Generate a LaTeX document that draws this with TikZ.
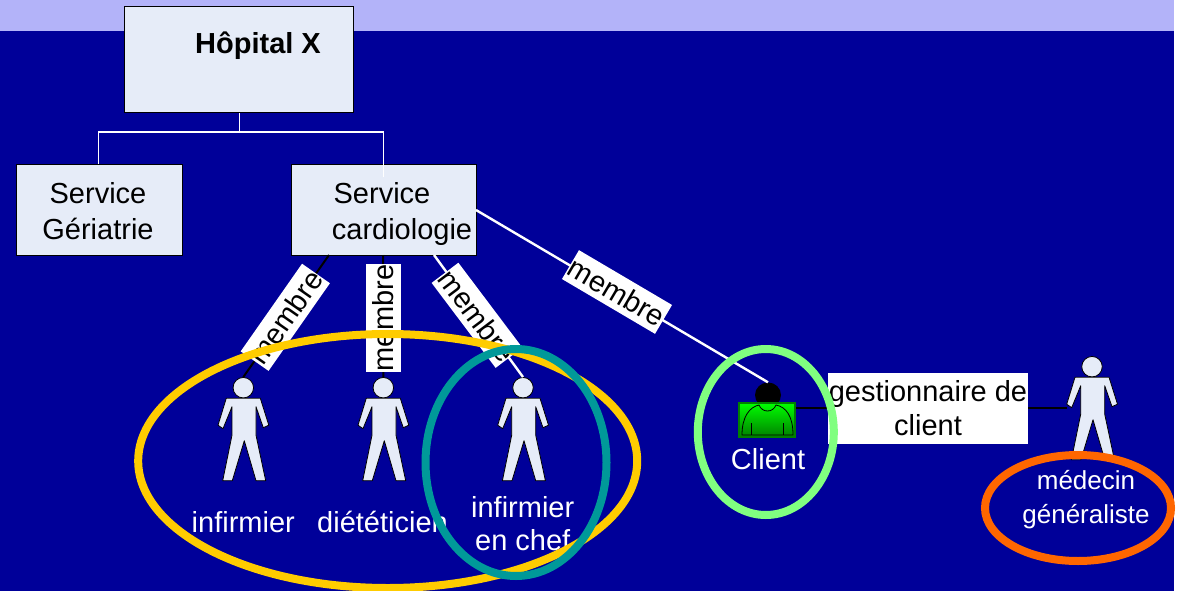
\documentclass[tikz,border=0pt]{standalone}
\usepackage{fontspec}
\usetikzlibrary{shapes.geometric}
\setmainfont{Liberation Sans}
\definecolor{navy}{HTML}{000099}
\definecolor{band}{HTML}{B3B3F9}
\definecolor{pale}{HTML}{E6ECF8}
\definecolor{yell}{HTML}{FFCC00}
\definecolor{teal2}{HTML}{009999}
\definecolor{lgreen}{HTML}{80FF80}
\definecolor{orng}{HTML}{FF6600}
\definecolor{dgreen}{HTML}{008000}
\tikzset{
  x=1pt,y=-1pt,
  boxn/.style={draw=black,line width=0.8pt,fill=pale,inner sep=0pt,anchor=north west},
  boxt/.style={text=black,inner sep=0pt,align=center,anchor=center,font=\fontsize{29}{35.5}\selectfont},
  lab/.style={fill=white,text=black,inner sep=0pt,font=\fontsize{29}{34}\selectfont,align=center},
  captext/.style={text=white,align=center,anchor=center,font=\fontsize{29}{33}\selectfont,inner sep=0pt},
  captextb/.style={text=white,align=center,anchor=center,font=\fontsize{26}{34.3}\selectfont,inner sep=0pt},
  org/.style={draw=white,line width=1pt},
  linkb/.style={draw=black,line width=2pt},
  linkw/.style={draw=white,line width=2.4pt},
  ring/.style={line width=8pt,draw=#1},
  headn/.style={circle,draw=black,line width=0.8pt,fill=pale,minimum size=20.5pt,inner sep=0pt},
  personbody/.pic={
    \draw[black,line width=0.8pt,fill=pale,line join=round]
      (-17,10.5) -- (17,10.5) -- (25.5,37.5) -- (20,40) -- (12.7,19) -- (12.7,47.5)
      -- (22.4,93) -- (12.7,93) -- (1,53) -- (-11,93) -- (-20.6,93) -- (-11.3,47.5)
      -- (-11.3,19) -- (-20.3,41) -- (-25.3,37.5) -- cycle;
  }
}
\begin{document}
\begin{tikzpicture}
\useasboundingbox (0,0) rectangle (1177,591);
\fill[white] (0,0) rectangle (1177,591);
\fill[navy] (0,0) rectangle (1174,591);
\fill[band] (0,0) rectangle (1174,31);
% boxes
\node[boxn,minimum width=228.5pt,minimum height=106.5pt] (hop) at (124,6) {};
\node[boxt,font=\fontsize{29}{35}\selectfont\bfseries] (hopt) at (258,46) {Hôpital X};
\node[boxn,minimum width=165.5pt,minimum height=90.5pt] (ger) at (16,164) {};
\node[boxt] (gert) at (98,211) {Service\\Gériatrie};
\node[boxn,minimum width=184.5pt,minimum height=90.5pt] (car) at (291,164) {};
\coordinate (j) at (239,132);
\coordinate (gtop) at (98,164);
\coordinate (ctop) at (383,177);
\draw[org] (hop.south -| j) -- (j) -- (j -| gtop) -- (gtop);
\draw[org] (j) -- (j -| ctop) -- (ctop);
\node[boxt] (cart) at (402,214) {Service\hspace*{40pt}\\cardiologie};
% persons
\node[headn] (p1) at (243.3,387.7) {};
\node[headn] (p2) at (383.3,387.7) {};
\node[headn] (p3) at (523,387.7) {};
\node[headn] (p4) at (1092,366.7) {};
\node[fill=black,ellipse,minimum width=26pt,minimum height=25pt,inner sep=0pt] (cl) at (768,395) {};
% connectors
\coordinate (c1) at (329,255);
\coordinate (c2) at (383,255);
\coordinate (c3) at (434,255);
\coordinate (c4) at (476,210);
\coordinate (hand) at (1067,408);
\draw[linkb] (c1) -- (p1.north);
\draw[linkb] (c2) -- (p2.north);
\draw[linkw] (c3) -- (p3.north);
\draw[linkw] (c4) -- (cl.north);
\pic at (243.3,387.7) {personbody};
\pic at (383.3,387.7) {personbody};
\pic at (523,387.7) {personbody};
\pic at (1092,366.7) {personbody};
% client icon
\node[draw=dgreen,line width=2pt,top color=green,bottom color=green!50!black,minimum width=56pt,minimum height=34pt,inner sep=0pt] (icon) at (767,420) {};
\draw[black,line width=0.8pt] (742,435) .. controls (742,416) and (750,407) .. (759,405)
  .. controls (762,413) and (773,413) .. (776,405) .. controls (786,407) and (793,416) .. (793,435) -- cycle;
\draw[black,line width=0.8pt] (751,423) -- (751,435) (783,423) -- (783,435);
\draw[linkb] (icon.east |- hand) -- (hand);
% labels
\node[lab,minimum width=107pt,minimum height=34pt,rotate=55] (m1) at (285.3,317.3) {membre};
\node[lab,minimum width=107.5pt,minimum height=34.5pt,rotate=90] (m2) at (383.3,318) {membre};
\node[lab,minimum width=106pt,minimum height=33.5pt,rotate=-53] (m3) at (477,315.3) {membre};
\node[lab,minimum width=108pt,minimum height=33.5pt,rotate=-30.5] (m4) at (617,292) {membre};
\node[lab,minimum width=200pt,minimum height=71pt] (gest) at (928,408.5) {gestionnaire de\\client};
% captions
\node[captext] (t1) at (243.3,522) {infirmier};
\node[captext] (t2) at (382.5,522) {diététicien};
\node[captext] (t3) at (522.7,523.5) {infirmier\\en chef};
\node[captext] (t4) at (768,459.5) {Client};
\node[captextb] (t5) at (1086,499.5) {médecin\\généraliste};
% rings
\draw[ring=yell] (387.7,461) ellipse [x radius=249.5,y radius=127];
\draw[ring=teal2] (516,462.5) ellipse [x radius=90.5,y radius=113.5];
\draw[ring=lgreen] (765.8,432) ellipse [x radius=68,y radius=83];
\draw[ring=orng] (1078,508) ellipse [x radius=93,y radius=53];
\end{tikzpicture}
\end{document}
